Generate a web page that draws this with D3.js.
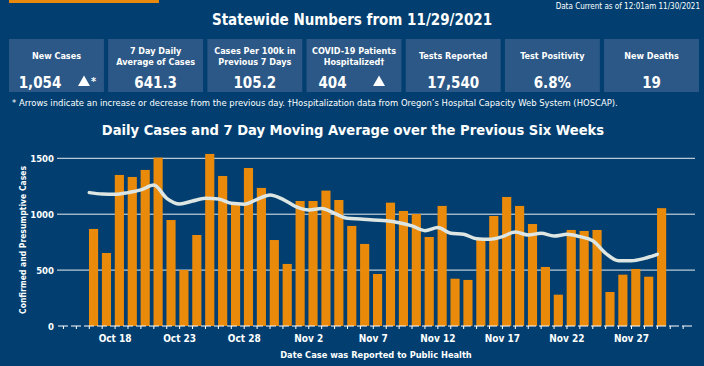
<!DOCTYPE html>
<html><head><meta charset="utf-8">
<script src="https://cdn.jsdelivr.net/npm/d3@7"></script>
<style>
html,body{margin:0;padding:0;background:#023f70;}
svg{display:block;}
text{font-family:"Liberation Sans Narrow","DejaVu Sans Condensed","Open Sans",sans-serif;font-weight:bold;fill:#fff;}
</style></head><body>
<svg id="c" width="704" height="366"></svg>
<script>
// ---- data ----
const startDate = "2021-10-16";
const dailyCases = [868,653,1351,1333,1396,1506,948,501,814,1539,1342,1090,1413,1235,769,555,1118,1118,1211,1127,895,734,465,1103,1029,1002,796,1074,423,412,775,984,1154,1074,912,528,280,859,850,859,304,459,510,441,1054];
const movingAvg = [1193,1181,1178,1193,1217,1261,1142,1091,1118,1142,1136,1097,1090,1133,1172,1133,1068,1038,1050,1008,963,957,948,942,924,895,853,880,829,820,780,775,799,841,814,829,805,820,799,763,650,584,584,605,641.3];
const yTicks = [0,500,1000,1500];
const xTickLabels = ["Oct 18","Oct 23","Oct 28","Nov 2","Nov 7","Nov 12","Nov 17","Nov 22","Nov 27"];
const statTitles = [["New Cases"],["7 Day Daily","Average of Cases"],["Cases Per 100k in","Previous 7 Days"],["COVID-19 Patients","Hospitalized†"],["Tests Reported"],["Test Positivity"],["New Deaths"]];
const statValues = ["1,054","641.3","105.2","404","17,540","6.8%","19"];
const statArrows = ["up*","","","up","","",""];

const parse = d3.timeParse("%Y-%m-%d");
const d0 = parse(startDate);
const days = dailyCases.map((v,i)=>d3.timeDay.offset(d0,i));

const svg = d3.select("#c");

// top orange strip
svg.append("rect").attr("x",9).attr("y",0).attr("width",150).attr("height",3).attr("fill","#e8890c");
svg.append("text").attr("x",700).attr("y",9).attr("text-anchor","end").style("font-size","8px").style("font-weight","normal").text("Data Current as of 12:01am 11/30/2021");
svg.append("text").attr("x",352).attr("y",25).attr("text-anchor","middle").style("font-size","15px").text("Statewide Numbers from 11/29/2021");

// stat boxes
const bx = d3.scaleBand().domain(d3.range(statValues.length)).range([9,699]).paddingInner(0.043).paddingOuter(0.0);
const box = svg.selectAll("g.box").data(statValues).join("g").attr("class","box")
  .attr("transform",(d,i)=>`translate(${bx(i)},39)`);
box.append("rect").attr("width",bx.bandwidth()).attr("height",53).attr("fill","#2b5886");
box.each(function(d,i){
  const g=d3.select(this), bw=bx.bandwidth();
  const t=statTitles[i];
  const ys = t.length===1 ? [20] : [14.5,25.5];
  t.forEach((s,j)=>g.append("text").attr("x",bw/2).attr("y",ys[j]).attr("text-anchor","middle").style("font-size","9px").text(s));
  const a=statArrows[i];
  let vx = bw/2;
  if(a) vx = a==="up*" ? 31 : 26;
  g.append("text").attr("x",vx).attr("y",48.5).attr("text-anchor","middle").style("font-size","15px").text(d);
  if(a){
    const ax = a==="up*" ? 75 : 72.5;
    g.append("path").attr("d",d3.symbol(d3.symbolTriangle,62)()).attr("fill","#fff")
      .attr("transform",`translate(${ax},${43.5})`);
    if(a==="up*") g.append("text").attr("x",82).attr("y",46).style("font-size","11px").text("*");
  }
});
svg.append("text").attr("x",12).attr("y",105.5).style("font-size","9.4px").style("font-weight","normal")
  .text("* Arrows indicate an increase or decrease from the previous day. †Hospitalization data from Oregon’s Hospital Capacity Web System (HOSCAP).");

svg.append("text").attr("x",353).attr("y",135).attr("text-anchor","middle").style("font-size","14.6px")
  .text("Daily Cases and 7 Day Moving Average over the Previous Six Weeks");

// chart
const x = d3.scaleTime()
  .domain([d3.timeHour.offset(d0,-60), d3.timeHour.offset(days[days.length-1],70)])
  .range([57,695]);
const y = d3.scaleLinear().domain([0,1500]).range([326,158.3]);

// gridlines
svg.append("g").selectAll("line").data(yTicks.filter(v=>v>0)).join("line")
  .attr("x1",x.range()[0]).attr("x2",x.range()[1]).attr("y1",d=>y(d)).attr("y2",d=>y(d))
  .attr("stroke","#ffffff").attr("stroke-width",1).attr("stroke-opacity",0.9);

// bars
const barW = x(d3.timeHour.offset(d0,17)) - x(d0);
svg.append("g").selectAll("rect").data(dailyCases).join("rect")
  .attr("x",(d,i)=>x(days[i])-0.3).attr("width",barW)
  .attr("y",d=>y(d)).attr("height",d=>y(0)-y(d)).attr("fill","#ea8a0b");

// moving average line
svg.append("path").datum(movingAvg)
  .attr("d",d3.line().x((d,i)=>x(days[i])).y(d=>y(d)).curve(d3.curveMonotoneX))
  .attr("fill","none").attr("stroke","#dde6e2").attr("stroke-width",3.5)
  .attr("stroke-linejoin","round").attr("stroke-linecap","round");

// y axis labels
svg.append("g").selectAll("text").data(yTicks).join("text")
  .attr("x",54).attr("y",d=>y(d)+3.5).attr("text-anchor","end").style("font-size","9.5px").text(d=>d);

// x axis
const xTicks = d3.timeDay.range(d3.timeDay.ceil(x.domain()[0]), x.domain()[1]);
const xa = svg.append("g").attr("transform",`translate(0,${y(0)})`);
xa.append("line").attr("x1",x.range()[0]).attr("x2",x.range()[1]).attr("stroke","#fff").attr("stroke-width",1).attr("stroke-dasharray","10,3").attr("stroke-dashoffset",-1);
xa.selectAll("line.t").data(xTicks).join("line").attr("class","t")
  .attr("x1",d=>x(d)).attr("x2",d=>x(d)).attr("y1",0).attr("y2",3).attr("stroke","#fff").attr("stroke-width",1);
const fmt = d3.timeFormat("%b %-d");
xa.selectAll("text").data(xTicks.filter(d=>xTickLabels.includes(fmt(d)))).join("text")
  .attr("x",d=>x(d)).attr("y",15.5).attr("text-anchor","middle").style("font-size","10px").text(d=>fmt(d));

svg.append("text").attr("x",(x.range()[0]+x.range()[1])/2).attr("y",358).attr("text-anchor","middle").style("font-size","9.2px")
  .text("Date Case was Reported to Public Health");
svg.append("text").attr("transform",`translate(26,240) rotate(-90)`).attr("text-anchor","middle").style("font-size","8.5px")
  .text("Confirmed and Presumptive Cases");
</script></body></html>
